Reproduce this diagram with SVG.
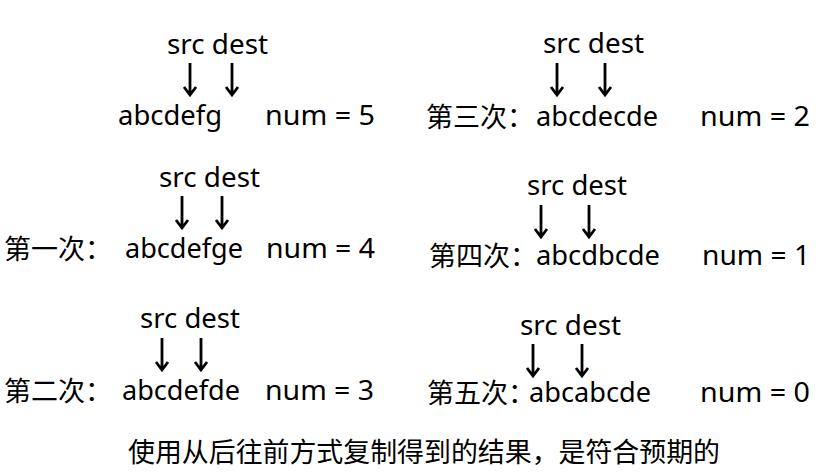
<svg xmlns="http://www.w3.org/2000/svg" width="827" height="474" viewBox="0 0 827 474">
<defs>
<style>
text{font-family:"Noto Sans","Noto Sans CJK SC",sans-serif;font-size:27px;fill:#000}
.c{font-family:"Noto Sans CJK SC",sans-serif;font-size:27px}
.a{stroke:#000;stroke-width:2.8;fill:none;stroke-linecap:butt}
</style>
</defs>
<rect width="827" height="474" fill="#fff"/>
<g id="connectors">
<path class="a" d="M190,63V95M184,87L190,95L196,87"/>
<path class="a" d="M232,63V95M226,87L232,95L238,87"/>
<path class="a" d="M182,196V228M176,220L182,228L188,220"/>
<path class="a" d="M222,196V228M216,220L222,228L228,220"/>
<path class="a" d="M162,338V370M156,362L162,370L168,362"/>
<path class="a" d="M201,338V370M195,362L201,370L207,362"/>
<path class="a" d="M557,63V95M551,87L557,95L563,87"/>
<path class="a" d="M605,63V95M599,87L605,95L611,87"/>
<path class="a" d="M541,205V237M535,229L541,237L547,229"/>
<path class="a" d="M589,205V237M583,229L589,237L595,229"/>
<path class="a" d="M533,344V376M527,368L533,376L539,368"/>
<path class="a" d="M582,344V376M576,368L582,376L588,368"/>
</g>
<g id="step0">
<text x="167" y="54" textLength="101" lengthAdjust="spacingAndGlyphs">src dest</text>
<text x="118" y="125" textLength="104" lengthAdjust="spacingAndGlyphs">abcdefg</text>
<text x="265" y="125" textLength="110" lengthAdjust="spacingAndGlyphs">num = 5</text>
</g>
<g id="step1">
<text x="159" y="187" textLength="101" lengthAdjust="spacingAndGlyphs">src dest</text>
<text class="c" x="4" y="259">第一次：</text>
<text x="125" y="258" textLength="118" lengthAdjust="spacingAndGlyphs">abcdefge</text>
<text x="266" y="258" textLength="109" lengthAdjust="spacingAndGlyphs">num = 4</text>
</g>
<g id="step2">
<text x="140" y="328" textLength="100" lengthAdjust="spacingAndGlyphs">src dest</text>
<text class="c" x="4" y="401">第二次：</text>
<text x="122" y="400" textLength="118" lengthAdjust="spacingAndGlyphs">abcdefde</text>
<text x="265" y="400" textLength="109" lengthAdjust="spacingAndGlyphs">num = 3</text>
</g>
<g id="step3">
<text x="543" y="53" textLength="101" lengthAdjust="spacingAndGlyphs">src dest</text>
<text class="c" x="426" y="127">第三次：</text>
<text x="536" y="126" textLength="122" lengthAdjust="spacingAndGlyphs">abcdecde</text>
<text x="700" y="126" textLength="110" lengthAdjust="spacingAndGlyphs">num = 2</text>
</g>
<g id="step4">
<text x="527" y="195" textLength="100" lengthAdjust="spacingAndGlyphs">src dest</text>
<text class="c" x="429" y="266">第四次：</text>
<text x="536" y="265" textLength="124" lengthAdjust="spacingAndGlyphs">abcdbcde</text>
<text x="702" y="265" textLength="108" lengthAdjust="spacingAndGlyphs">num = 1</text>
</g>
<g id="step5">
<text x="520" y="335" textLength="101" lengthAdjust="spacingAndGlyphs">src dest</text>
<text class="c" x="427" y="403">第五次：</text>
<text x="529" y="402" textLength="122" lengthAdjust="spacingAndGlyphs">abcabcde</text>
<text x="700" y="402" textLength="110" lengthAdjust="spacingAndGlyphs">num = 0</text>
</g>
<g id="caption">
<text x="128" y="462" textLength="592" lengthAdjust="spacingAndGlyphs" font-size="25">使用从后往前方式复制得到的结果，是符合预期的</text>
</g>
</svg>
